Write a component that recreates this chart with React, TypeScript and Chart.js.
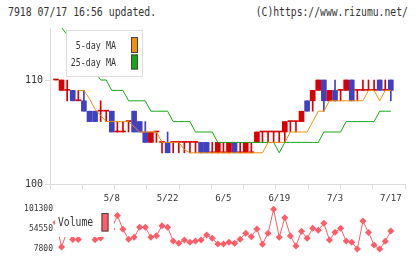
import React, { useEffect, useRef } from 'react';
import { Chart, registerables } from 'chart.js';

Chart.register(...registerables);

// ---- data ----
const dates = [
  '4/24', '4/25', '4/26', '4/29', '4/30', '5/1', '5/2', '5/3', '5/6', '5/7',
  '5/8', '5/9', '5/10', '5/13', '5/14', '5/15', '5/16', '5/17', '5/20', '5/21',
  '5/22', '5/23', '5/24', '5/27', '5/28', '5/29', '5/30', '5/31', '6/3', '6/4',
  '6/5', '6/6', '6/7', '6/10', '6/11', '6/12', '6/13', '6/14', '6/17', '6/18',
  '6/19', '6/20', '6/21', '6/24', '6/25', '6/26', '6/27', '6/28', '7/1', '7/2',
  '7/3', '7/4', '7/5', '7/8', '7/9', '7/10', '7/11', '7/12', '7/15', '7/16',
  '7/17',
];
const labelDates = ['5/8', '5/22', '6/5', '6/19', '7/3', '7/17'];

const opens = [
  110, 109, 109, 109, 108, 108, 107, 107, 107, 107,
  107, 105, 105, 106, 107, 106, 105, 104, 105, 104,
  104, 104, 104, 104, 104, 104, 104, 104, 103, 103,
  103, 103, 104, 103, 103, 103, 104, 105, 105, 105,
  105, 105, 106, 106, 106, 108, 108, 109, 110, 108,
  109, 109, 109, 110, 109, 109, 109, 109, 110, 109,
  110,
];
const highs = [
  110, 110, 110, 109, 109, 109, 107, 107, 108, 107,
  107, 106, 106, 106, 107, 106, 106, 105, 105, 104,
  105, 104, 104, 104, 104, 104, 104, 104, 104, 104,
  104, 104, 104, 104, 104, 104, 105, 105, 105, 105,
  105, 106, 106, 106, 107, 108, 109, 110, 110, 109,
  110, 109, 110, 110, 109, 110, 110, 110, 110, 110,
  110,
];
const lows = [
  110, 109, 108, 108, 108, 107, 106, 106, 106, 106,
  105, 105, 105, 105, 105, 105, 104, 104, 104, 103,
  103, 103, 103, 103, 103, 103, 103, 103, 103, 103,
  103, 103, 103, 103, 103, 103, 104, 104, 104, 104,
  104, 104, 105, 105, 106, 107, 107, 109, 107, 108,
  108, 108, 109, 108, 108, 109, 109, 109, 109, 109,
  108,
];
const closes = [
  110, 110, 109, 108, 108, 107, 106, 106, 107, 107,
  105, 105, 105, 106, 105, 105, 104, 105, 105, 104,
  103, 104, 104, 104, 104, 104, 103, 103, 103, 104,
  103, 104, 103, 103, 104, 103, 105, 105, 105, 105,
  105, 106, 106, 106, 107, 107, 109, 110, 108, 109,
  108, 109, 110, 108, 109, 109, 109, 109, 109, 109,
  109,
];
const ma5 = [
  null, null, null, null, 109, 109, 108.2, 107.2, 106.6, 106,
  106, 106, 106, 106, 105.5, 105, 105, 105, 105, 104,
  104, 104, 104, 103.3, 103, 103, 103, 103, 103, 103,
  103, 103, 103, 103, 103, 103, 103, 103, 104, 104,
  104, 104, 105, 105, 105, 105, 106, 107, 107, 108,
  108, 108, 108, 108, 108, 108, 109, 109, 108, 109,
  109,
];
const ma25 = [
  115.75, 115.04, 114.33, 113.6, 113, 112.3, 111.6, 110.8, 110, 110,
  109, 109, 109, 108, 108, 108, 108, 107, 107, 107,
  107, 106, 106, 106, 106, 105, 105, 105, 105, 104,
  104, 104, 104, 104, 104, 104, 104, 104, 104, 104,
  103, 104, 104, 104, 104, 104, 104, 104, 105, 105,
  105, 105, 106, 106, 106, 106, 106, 106, 107, 107,
  107,
];
const volumes = [
  70000, 12500, 50000, 30000, 30000, 60000, 55000, 29500, 33500, 60000,
  54550, 86100, 53850, 30500, 35150, 58500, 58500, 35150, 38900, 62300,
  58500, 26500, 21100, 28800, 23500, 26500, 28800, 40500, 32800, 19500,
  19500, 23500, 21100, 30700, 44500, 36600, 54550, 19000, 44500, 101000,
  35150, 81000, 38200, 14800, 49200, 32800, 56200, 51500, 67900, 28800,
  46800, 56200, 26500, 23500, 7800, 73200, 46400, 17150, 7800, 25800,
  49900,
];
const priceTicks = [100, 110];
const volumeTicks = [7800, 54550, 101300];

// ---- styles ----
const RED = '#d80000';
const BLUE = '#4040c0';
const ORANGE = '#f0900c';
const GREEN = '#14a814';
const VOL = '#ff5c68';
const AXIS = '#dcdcdc';
const TEXT = '#333333';
const MONO = '"DejaVu Sans Mono", monospace';

const X_MIN = -1.075;
const X_MAX = 62.54;
const VX_MIN = -0.5376;

const candleColor = (i: number) => (closes[i] < opens[i] ? BLUE : RED);

type LegendItem = { label: string; color: string; tx: number; ty: number; align: CanvasTextAlign; bx: number; by: number; bw: number; bh: number };

function legendPlugin(id: string, box: { x: number; y: number; w: number; h: number; border: string | null }, items: LegendItem[], fontPx: number, scaleX: number) {
  return {
    id,
    afterDatasetsDraw(chart: any) {
      const ctx = chart.ctx as CanvasRenderingContext2D;
      ctx.save();
      ctx.fillStyle = '#ffffff';
      ctx.fillRect(box.x, box.y, box.w, box.h);
      if (box.border) {
        ctx.strokeStyle = box.border;
        ctx.lineWidth = 1;
        ctx.strokeRect(box.x + 0.5, box.y + 0.5, box.w - 1, box.h - 1);
      }
      for (const it of items) {
        ctx.fillStyle = it.color;
        ctx.fillRect(it.bx, it.by, it.bw, it.bh);
        ctx.strokeStyle = '#444444';
        ctx.lineWidth = 1;
        ctx.strokeRect(it.bx + 0.5, it.by + 0.5, it.bw - 1, it.bh - 1);
        ctx.save();
        ctx.font = `${fontPx}px ${MONO}`;
        ctx.fillStyle = TEXT;
        ctx.textBaseline = 'middle';
        ctx.textAlign = it.align;
        ctx.translate(it.tx, it.ty);
        ctx.scale(scaleX, 1);
        ctx.fillText(it.label, 0, 0);
        ctx.restore();
      }
      ctx.restore();
    },
  };
}

function MainChart() {
  const ref = useRef<HTMLCanvasElement>(null);
  useEffect(() => {
    const idx = dates.map((_, i) => i);
    const chart = new Chart(ref.current!, {
      type: 'bar',
      data: {
        datasets: [
          {
            type: 'line',
            label: '5-day MA',
            data: idx.map((i) => ({ x: i, y: ma5[i] })) as any,
            borderColor: ORANGE,
            borderWidth: 1,
            pointRadius: 0,
            tension: 0,
            order: 0,
          },
          {
            type: 'line',
            label: '25-day MA',
            data: idx.map((i) => ({ x: i, y: ma25[i] })) as any,
            borderColor: GREEN,
            borderWidth: 1,
            pointRadius: 0,
            tension: 0,
            order: 1,
          },
          {
            type: 'bar',
            label: 'body',
            data: idx.map((i) => ({ x: i, y: [opens[i], closes[i]] })) as any,
            backgroundColor: idx.map(candleColor),
            barThickness: 5,
            minBarLength: 1,
            grouped: false,
            order: 2,
          },
          {
            type: 'bar',
            label: 'wick',
            data: idx.map((i) => ({ x: i, y: [lows[i], highs[i]] })) as any,
            backgroundColor: idx.map(candleColor),
            barThickness: 1,
            grouped: false,
            order: 3,
          },
        ],
      },
      options: {
        animation: false,
        responsive: false,
        events: [],
        layout: { padding: { top: 5, right: 15, bottom: 5, left: 0 } },
        plugins: { legend: { display: false }, tooltip: { enabled: false } },
        scales: {
          x: {
            type: 'linear',
            min: X_MIN,
            max: X_MAX,
            offset: false,
            position: 'bottom',
            grid: { drawOnChartArea: false, color: AXIS, tickLength: 5, offset: false },
            border: { color: AXIS },
            ticks: { display: false },
            afterBuildTicks: (s: any) => {
              const t = [];
              for (let k = 0; k <= 11; k++) t.push({ value: X_MIN + (k * (X_MAX - X_MIN)) / 11 });
              s.ticks = t;
            },
            afterFit: (s: any) => {
              s.height = 5;
            },
          },
          x2: {
            type: 'linear',
            min: X_MIN,
            max: X_MAX,
            offset: false,
            position: 'bottom',
            grid: { display: false, drawTicks: false, offset: false },
            border: { display: false },
            ticks: {
              color: TEXT,
              font: { family: MONO, size: 9 },
              padding: 4,
              maxRotation: 0,
              autoSkip: false,
              callback: (v: any) => dates[v] ?? '',
            },
            afterBuildTicks: (s: any) => {
              s.ticks = labelDates.map((d) => ({ value: dates.indexOf(d) }));
            },
            afterFit: (s: any) => {
              s.height = 16;
            },
          },
          y: {
            type: 'linear',
            min: 100,
            max: 115,
            grid: { drawOnChartArea: false, color: AXIS, tickLength: 5 },
            border: { color: AXIS },
            ticks: {
              color: TEXT,
              font: { family: MONO, size: 10 },
              padding: 2,
              callback: (v: any) => String(v),
            },
            afterBuildTicks: (s: any) => {
              s.ticks = priceTicks.map((v) => ({ value: v }));
            },
            afterFit: (s: any) => {
              s.width = 50;
            },
          },
        },
      },
      plugins: [
        legendPlugin(
          'mainLegend',
          { x: 66, y: 10, w: 77, h: 47, border: '#dddddd' },
          [
            { label: '5-day MA', color: ORANGE, tx: 116, ty: 26, align: 'right', bx: 131, by: 17, bw: 7, bh: 16 },
            { label: '25-day MA', color: GREEN, tx: 116, ty: 43.5, align: 'right', bx: 131, by: 34.5, bw: 7, bh: 15 },
          ],
          11,
          0.76,
        ),
      ],
    } as any);
    return () => chart.destroy();
  }, []);
  return <canvas ref={ref} width={420} height={190} style={{ position: 'absolute', left: 0, top: 20, width: 420, height: 190 }} />;
}

function VolumeChart() {
  const ref = useRef<HTMLCanvasElement>(null);
  useEffect(() => {
    const idx = dates.map((_, i) => i);
    const chart = new Chart(ref.current!, {
      type: 'line',
      data: {
        datasets: [
          {
            label: 'Volume',
            data: idx.map((i) => ({ x: i, y: volumes[i] })) as any,
            borderColor: VOL,
            backgroundColor: VOL,
            borderWidth: 1,
            pointStyle: 'rectRot',
            pointRadius: 3.5,
            pointBorderWidth: 0,
            pointBackgroundColor: VOL,
            tension: 0,
            clip: 6,
          },
        ],
      },
      options: {
        animation: false,
        responsive: false,
        events: [],
        layout: { padding: { top: 9, right: 15, bottom: 10, left: 0 } },
        plugins: { legend: { display: false }, tooltip: { enabled: false } },
        scales: {
          x: { type: 'linear', min: VX_MIN, max: X_MAX, offset: false, display: false },
          y: {
            type: 'linear',
            min: 7800,
            max: 101300,
            grid: { display: false, drawTicks: false },
            border: { display: false },
            ticks: {
              color: TEXT,
              font: { family: MONO, size: 8 },
              padding: 0,
              callback: (v: any) => String(v),
            },
            afterBuildTicks: (s: any) => {
              s.ticks = volumeTicks.map((v) => ({ value: v }));
            },
            afterFit: (s: any) => {
              s.width = 53;
            },
          },
        },
      },
      plugins: [
        legendPlugin(
          'volLegend',
          { x: 55, y: 10, w: 59, h: 27, border: null },
          [{ label: 'Volume', color: VOL, tx: 58, ty: 22.5, align: 'left', bx: 101.5, by: 13, bw: 7, bh: 18.5 }],
          12,
          0.81,
        ),
      ],
    } as any);
    return () => chart.destroy();
  }, []);
  return <canvas ref={ref} width={420} height={59} style={{ position: 'absolute', left: 0, top: 200, width: 420, height: 59 }} />;
}

export default function App() {
  return (
    <div style={{ position: 'absolute', left: 0, top: 0, width: 420, height: 259, background: '#ffffff', overflow: 'hidden' }}>
      <div
        style={{
          position: 'absolute',
          left: 8,
          top: 5,
          font: `12px ${MONO}`,
          color: TEXT,
          whiteSpace: 'nowrap',
          transform: 'scaleX(0.82)',
          transformOrigin: 'left top',
        }}
      >
        7918 07/17 16:56 updated.
      </div>
      <div
        style={{
          position: 'absolute',
          right: 12,
          top: 5,
          font: `12px ${MONO}`,
          color: TEXT,
          whiteSpace: 'nowrap',
          transform: 'scaleX(0.81)',
          transformOrigin: 'right top',
        }}
      >
        (C)https://www.rizumu.net/
      </div>
      <MainChart />
      <VolumeChart />
    </div>
  );
}
